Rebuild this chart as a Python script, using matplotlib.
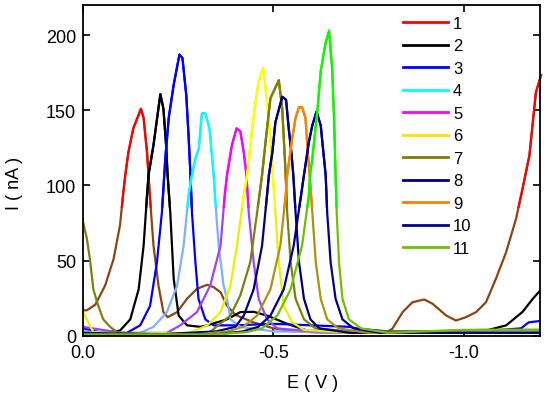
import numpy as np
import matplotlib
matplotlib.use("Agg")
import matplotlib.pyplot as plt
from matplotlib.patches import Rectangle
from matplotlib.lines import Line2D

plt.rcParams['font.family'] = ['Liberation Sans', 'DejaVu Sans']
plt.rcParams['axes.unicode_minus'] = False

# =========================
# DATA (E in V, I in nA)
# =========================
E1 = [0, -0.01, -0.032, -0.058, -0.080, -0.097, -0.106, -0.111, -0.119, -0.132, -0.152, -0.159, -0.168,
      -0.176, -0.185, -0.198, -0.211, -0.222, -0.247, -0.273, -0.299, -0.326, -0.343, -0.361, -0.378,
      -0.40, -0.447, -0.50, -0.55, -0.65, -0.75, -0.80, -0.812, -0.839, -0.865, -0.896, -0.918, -0.953,
      -0.979, -1.005, -1.032, -1.058, -1.084, -1.111, -1.137, -1.154, -1.172, -1.189, -1.203]
I1 = [17, 17, 20.7, 33.5, 51, 73.5, 96, 107, 122, 138, 151, 145, 122,
      91, 60, 33.5, 15.8, 12.4, 15.8, 24.7, 31.3, 34, 32.4, 29, 20,
      14, 9, 5, 3, 2, 2, 3, 4.7, 15.8, 22.4, 24.2, 21.3, 13.6,
      10.2, 12.4, 15.8, 22.4, 38, 55.8, 78, 98, 120, 162, 173.5]

E2 = [0, -0.03, -0.045, -0.097, -0.124, -0.146, -0.159, -0.168, -0.172, -0.185, -0.203, -0.211, -0.218,
      -0.222, -0.229, -0.238, -0.251, -0.273, -0.308, -0.326, -0.378, -0.413, -0.448, -0.483, -0.536,
      -0.589, -0.70, -0.90, -1.05, -1.111, -1.154, -1.181, -1.203]
I2 = [1, 1.5, 2, 3.5, 11, 31, 60, 93.5, 107, 127, 160.7, 151, 127,
      107, 82, 38, 13.5, 7, 6, 7, 11, 15.8, 16, 13.5, 8,
      3.5, 2, 2, 3, 7, 16, 24.7, 31]

E3 = [0, -0.05, -0.115, -0.150, -0.176, -0.194, -0.207, -0.216, -0.225, -0.238, -0.253, -0.261, -0.271,
      -0.277, -0.282, -0.286, -0.295, -0.303, -0.321, -0.343, -0.40, -0.50, -0.60, -0.70, -0.724, -0.80,
      -1.0, -1.10, -1.15, -1.17, -1.203]
I3 = [5, 2, 2, 7, 20, 49, 82, 118, 145, 167, 187, 184.7, 160,
      133.5, 107, 82, 49, 24.7, 11, 7, 7, 8, 7, 6, 4.7, 3,
      3, 4, 5, 9, 10]

E4 = [0, -0.10, -0.150, -0.185, -0.220, -0.247, -0.264, -0.277, -0.286, -0.295, -0.304, -0.312, -0.321,
      -0.332, -0.339, -0.343, -0.347, -0.356, -0.369, -0.378, -0.387, -0.413, -0.50, -0.70, -1.0, -1.203]
I4 = [3, 1.5, 2, 6, 15.8, 33.5, 60, 93.5, 107, 118, 124.7, 148, 148,
      138, 118, 107, 91, 60, 33.5, 24.7, 11, 6, 3, 2, 3, 3]

E5 = [0, -0.1, -0.22, -0.255, -0.299, -0.334, -0.361, -0.372, -0.378, -0.391, -0.403, -0.413, -0.422,
      -0.429, -0.435, -0.448, -0.461, -0.483, -0.51, -0.60, -0.8, -1.0, -1.203]
I5 = [6, 2, 2, 7, 15.8, 33.5, 60, 93.5, 107, 127, 138, 136, 122,
      107, 82, 49, 24.7, 11, 5, 3, 2, 2, 2]

E6 = [0, -0.027, -0.10, -0.28, -0.326, -0.361, -0.387, -0.404, -0.422, -0.431, -0.444, -0.453, -0.461,
      -0.473, -0.483, -0.492, -0.498, -0.505, -0.514, -0.527, -0.549, -0.58, -0.70, -1.0, -1.203]
I6 = [15.8, 2.5, 1.5, 2, 7, 15.8, 33.5, 60, 93.5, 107, 138, 156, 169,
      178, 156, 131, 107, 82, 49, 20, 9, 4, 2, 2, 2]

E7 = [0, -0.010, -0.018, -0.027, -0.040, -0.053, -0.071, -0.092, -0.20, -0.33, -0.387, -0.413, -0.439,
      -0.457, -0.470, -0.483, -0.492, -0.514, -0.523, -0.529, -0.532, -0.536, -0.545, -0.558, -0.580,
      -0.61, -0.70, -0.9, -1.05, -1.203]
I7 = [75.8, 64.7, 51, 31, 20, 11, 6, 2, 1, 2, 13.5, 27, 49,
      82, 107, 138, 158, 170, 151, 122, 107, 82, 49, 24.7, 11,
      5, 3, 3, 4, 4]

E8 = [0, -0.2, -0.35, -0.40, -0.422, -0.448, -0.470, -0.483, -0.488, -0.497, -0.505, -0.523, -0.533,
      -0.540, -0.547, -0.552, -0.558, -0.567, -0.580, -0.597, -0.62, -0.70, -1.0, -1.203]
I8 = [2, 1, 3, 6, 13.5, 31, 60, 93.5, 107, 122, 142, 159, 157,
      138, 122, 107, 82, 49, 24.7, 11, 5, 2, 2, 2]

E9 = [0, -0.3, -0.38, -0.42, -0.457, -0.492, -0.518, -0.532, -0.536, -0.549, -0.558, -0.567, -0.575,
      -0.584, -0.590, -0.595, -0.602, -0.611, -0.624, -0.641, -0.67, -0.75, -1.0, -1.203]
I9 = [1, 1, 3, 6, 13.5, 31, 60, 93.5, 107, 131, 145, 152, 152,
      145, 122, 107, 82, 49, 24.7, 11, 5, 2, 2, 2]

E10 = [0, -0.35, -0.42, -0.46, -0.492, -0.527, -0.553, -0.571, -0.580, -0.593, -0.602, -0.613, -0.624,
       -0.631, -0.637, -0.641, -0.650, -0.663, -0.681, -0.71, -0.78, -1.0, -1.203]
I10 = [1, 1, 3, 6, 13.5, 31, 60, 91, 107, 129, 140, 149, 140,
       122, 107, 82, 49, 24.7, 11, 5, 2, 2, 2]

E11 = [0, -0.35, -0.43, -0.47, -0.510, -0.545, -0.575, -0.593, -0.596, -0.602, -0.615, -0.624, -0.637,
       -0.646, -0.654, -0.659, -0.663, -0.666, -0.672, -0.681, -0.698, -0.73, -0.80, -1.0, -1.203]
I11 = [1, 1, 2.5, 5, 13.5, 31, 60, 93.5, 107, 118, 149, 176, 195,
       203, 178, 145, 107, 82, 49, 24.7, 11, 5, 2, 4, 4]

labels = ["1", "2", "3", "4", "5", "6", "7", "8", "9", "10", "11"]
E_all = [E1, E2, E3, E4, E5, E6, E7, E8, E9, E10, E11]
I_all = [I1, I2, I3, I4, I5, I6, I7, I8, I9, I10, I11]

# upper part colour / lower part colour (the picture shows a colour shift near the base)
top_colors = ['#ff0000', '#000000', '#0000ff', '#00ffff', '#ff00ff', '#ffff00',
              '#7f7f00', '#00007f', '#ff7f00', '#000090', '#00ff00']
low_colors = ['#8b4513', '#000000', '#0000ff', '#7fb0ff', '#a040ff', '#e8f000',
              '#7f7f10', '#00007f', '#b09010', '#000090', '#70c000']
leg_colors = ['#ff0000', '#000000', '#0000ff', '#00ffff', '#ff00ff', '#ffe000',
              '#7f7f00', '#00007f', '#ff7f00', '#000090', '#70c000']
split = 85

# =========================
# PLOT
# =========================
fig = plt.figure(figsize=(5.5, 4.02), dpi=100)
ax = fig.add_axes([0.151, 0.162, 0.831, 0.823])

for e, i, ct, cl in zip(E_all, I_all, top_colors, low_colors):
    ln_low, = ax.plot(e, i, color=cl, lw=1.6)
    ln_top, = ax.plot(e, i, color=ct, lw=1.6)
    clip = Rectangle((0.1, split), -1.5, 300, transform=ax.transData)
    ln_top.set_clip_path(clip)

ax.set_xlim(0, -1.2)
ax.set_ylim(0, 220)
ax.set_xticks([0.0, -0.5, -1.0])
ax.set_xticklabels(["0.0", "-0.5", "-1.0"])
ax.set_yticks([0, 50, 100, 150, 200])
ax.tick_params(direction='in', length=5, width=1.2, top=True, right=True, labelsize=13)
ax.tick_params(axis='x', pad=6)
ax.tick_params(axis='y', pad=5)
for s in ax.spines.values():
    s.set_linewidth(1.3)

ax.set_xlabel("E ( V )", fontsize=13)
ax.set_ylabel("I ( nA )", fontsize=13)
ax.xaxis.set_label_coords(0.503, -0.115)
ax.yaxis.set_label_coords(-0.131, 0.465)

handles = [Line2D([], [], color=c, lw=2) for c in leg_colors]
ax.legend(handles, labels, loc='upper left', bbox_to_anchor=(0.700, 0.967), frameon=False,
          fontsize=12, handlelength=2.7, handletextpad=0.3, labelspacing=0.45,
          borderpad=0, borderaxespad=0)

fig.savefig("out.png", dpi=100)
